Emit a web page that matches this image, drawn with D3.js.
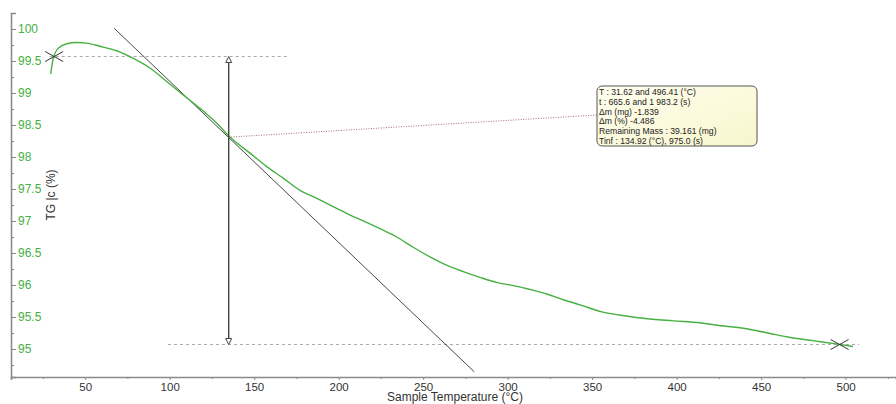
<!DOCTYPE html>
<html>
<head>
<meta charset="utf-8">
<script src="https://cdn.jsdelivr.net/npm/d3@7"></script>
<style>
  body { margin: 0; background: #fff; }
  text { font-family: Arial, "Liberation Sans", sans-serif; }
</style>
</head>
<body>
<script>
// TG curve
var tempC = [29.6, 31.1, 34.1, 39.1, 45.0, 50.9, 58.8, 68.6, 78.5, 88.3, 98.2, 108.0, 117.9, 127.8,
  135.3, 147.5, 157.4, 167.2, 177.1, 185.0, 204.7, 224.4, 234.3, 244.1, 254.0, 263.9, 273.7, 283.6,
  293.5, 303.3, 313.2, 323.1, 332.9, 342.8, 355.8, 369.1, 380.1, 398.2, 413.8, 422.7, 440.4, 454.0,
  467.4, 480.7, 494.3, 504.3];
var tgPct = [99.30, 99.54, 99.70, 99.77, 99.79, 99.78, 99.73, 99.66, 99.54, 99.39, 99.18, 98.97, 98.76, 98.53,
  98.32, 98.06, 97.85, 97.67, 97.48, 97.38, 97.12, 96.88, 96.75, 96.59, 96.44, 96.31, 96.21, 96.12,
  96.04, 95.99, 95.93, 95.86, 95.77, 95.69, 95.58, 95.52, 95.48, 95.44, 95.41, 95.375, 95.32, 95.25,
  95.18, 95.13, 95.08, 95.04];

// ticks
var xTicks = [50, 100, 150, 200, 250, 300, 350, 400, 450, 500];
var xMinorTicks = [25, 75, 125, 175, 225, 275, 325, 375, 425, 475, 525];
var yTicks = [95, 95.5, 96, 96.5, 97, 97.5, 98, 98.5, 99, 99.5, 100];
var yTickLabels = ["95", "95.5", "96", "96.5", "97", "97.5", "98", "98.5", "99", "99.5", "100"];
var yMinorTicks = [94.75, 95.25, 95.75, 96.25, 96.75, 97.25, 97.75, 98.25, 98.75, 99.25, 99.75];

// mass loss step annotation
var stepT = [31.62, 496.41];
var stepTG = [99.57, 95.07];
var upperGuideT = [29, 171];
var lowerGuideT = [99, 508];
var tinfT = 134.92;
var tinfTG = 98.31;
var tangentT = [67.2, 280.2];
var tangentTG = [100.01, 94.645];
var boxLines = [
  "T : 31.62 and 496.41 (°C)",
  "t : 665.6 and 1 983.2 (s)",
  "Δm (mg) -1.839",
  "Δm (%) -4.486",
  "Remaining Mass : 39.161 (mg)",
  "Tinf : 134.92 (°C), 975.0 (s)"
];

var svgWidth = 896;
var svgHeight = 404;
var green = "#46b041";

var svg = d3.select("body")
  .append("svg")
  .attr("width", svgWidth)
  .attr("height", svgHeight);

var x = d3.scaleLinear().domain([6.1, 529.8]).range([11, 896]);
var y = d3.scaleLinear().domain([94.5625, 100.25]).range([377, 13]);

// x axis
var xAxisG = svg.append("g")
  .attr("transform", "translate(0," + y(94.5625) + ")")
  .call(d3.axisBottom(x).tickValues(xTicks).tickSize(3).tickPadding(3).tickFormat(d3.format("d")));
svg.append("g")
  .attr("transform", "translate(0," + y(94.5625) + ")")
  .call(d3.axisBottom(x).tickValues(xMinorTicks).tickSize(2).tickFormat(""))
  .select(".domain").remove();
xAxisG.selectAll("text").attr("fill", "#333").style("font-size", "11.5px");

// y axis (ticks and labels inside)
var yAxisG = svg.append("g")
  .attr("transform", "translate(" + x(6.1) + ",0)")
  .call(d3.axisRight(y).tickValues(yTicks).tickSize(5).tickPadding(2)
    .tickFormat(function(d, i) { return yTickLabels[i]; }));
svg.append("g")
  .attr("transform", "translate(" + x(6.1) + ",0)")
  .call(d3.axisRight(y).tickValues(yMinorTicks).tickSize(3).tickFormat(""))
  .select(".domain").remove();
yAxisG.selectAll("text").attr("fill", green).style("font-size", "12px");

svg.selectAll(".domain").attr("stroke", "#8a8a8a").attr("stroke-width", 1.6);
svg.selectAll(".tick line").attr("stroke", "#8a8a8a");

svg.append("text")
  .attr("x", 455)
  .attr("y", 401)
  .attr("text-anchor", "middle")
  .attr("fill", "#333")
  .style("font-size", "12px")
  .text("Sample Temperature (°C)");

svg.append("text")
  .attr("transform", "translate(55,195) rotate(-90)")
  .attr("text-anchor", "middle")
  .attr("fill", "#333")
  .style("font-size", "12px")
  .text("TG |c (%)");

// guide lines
svg.append("line")
  .attr("x1", x(upperGuideT[0])).attr("x2", x(upperGuideT[1]))
  .attr("y1", y(stepTG[0])).attr("y2", y(stepTG[0]))
  .attr("stroke", "#aaa").attr("stroke-dasharray", "3,3");
svg.append("line")
  .attr("x1", x(lowerGuideT[0])).attr("x2", x(lowerGuideT[1]))
  .attr("y1", y(stepTG[1])).attr("y2", y(stepTG[1]))
  .attr("stroke", "#aaa").attr("stroke-dasharray", "3,3");

// tangent
svg.append("line")
  .attr("x1", x(tangentT[0])).attr("y1", y(tangentTG[0]))
  .attr("x2", x(tangentT[1])).attr("y2", y(tangentTG[1]))
  .attr("stroke", "#333").attr("stroke-width", 0.9);

// the curve
var line = d3.line()
  .x(function(d, i) { return x(tempC[i]); })
  .y(function(d, i) { return y(tgPct[i]); })
  .curve(d3.curveMonotoneX);
svg.append("path")
  .attr("d", line(tempC))
  .attr("fill", "none")
  .attr("stroke", green)
  .attr("stroke-width", 1.4);

// vertical double arrow
var ax = x(tinfT);
var yTop = y(stepTG[0]);
var yBot = y(stepTG[1]);
svg.append("line")
  .attr("x1", ax).attr("x2", ax)
  .attr("y1", yTop + 6).attr("y2", yBot - 6)
  .attr("stroke", "#444").attr("stroke-width", 1.4);
svg.append("path")
  .attr("d", "M" + ax + "," + yTop + " L" + (ax - 3) + "," + (yTop + 6) + " L" + (ax + 3) + "," + (yTop + 6) + " Z")
  .attr("fill", "#fff").attr("stroke", "#444");
svg.append("path")
  .attr("d", "M" + ax + "," + yBot + " L" + (ax - 3) + "," + (yBot - 6) + " L" + (ax + 3) + "," + (yBot - 6) + " Z")
  .attr("fill", "#fff").attr("stroke", "#444");

// step limit markers
stepT.forEach(function(t, i) {
  var cx = x(t), cy = y(stepTG[i]);
  svg.append("path")
    .attr("d", "M" + (cx - 9) + "," + (cy - 5) + " L" + (cx + 9) + "," + (cy + 5) +
      " M" + (cx - 9) + "," + (cy + 5) + " L" + (cx + 9) + "," + (cy - 5))
    .attr("stroke", "#333").attr("stroke-width", 1);
});

// info box and its dotted connector
var box = { x: 597, y: 86, w: 160, h: 60 };
svg.append("line")
  .attr("x1", x(tinfT)).attr("y1", y(tinfTG))
  .attr("x2", box.x).attr("y2", 115)
  .attr("stroke", "#a05a5a").attr("stroke-width", 0.9).attr("stroke-dasharray", "1,1.5");

var grad = svg.append("defs").append("linearGradient")
  .attr("id", "boxFill").attr("x1", 0).attr("y1", 0).attr("x2", 1).attr("y2", 1);
grad.append("stop").attr("offset", 0).attr("stop-color", "#fffff0");
grad.append("stop").attr("offset", 1).attr("stop-color", "#f8f6cc");

svg.append("rect")
  .attr("x", box.x).attr("y", box.y).attr("width", box.w).attr("height", box.h)
  .attr("rx", 5).attr("fill", "url(#boxFill)").attr("stroke", "#555");

svg.append("g").selectAll("text")
  .data(boxLines)
  .enter()
  .append("text")
  .attr("x", box.x + 2)
  .attr("y", function(d, i) { return box.y + 9 + i * 9.8; })
  .attr("fill", "#222")
  .style("font-size", "8.6px")
  .text(function(d) { return d; });
</script>
</body>
</html>
